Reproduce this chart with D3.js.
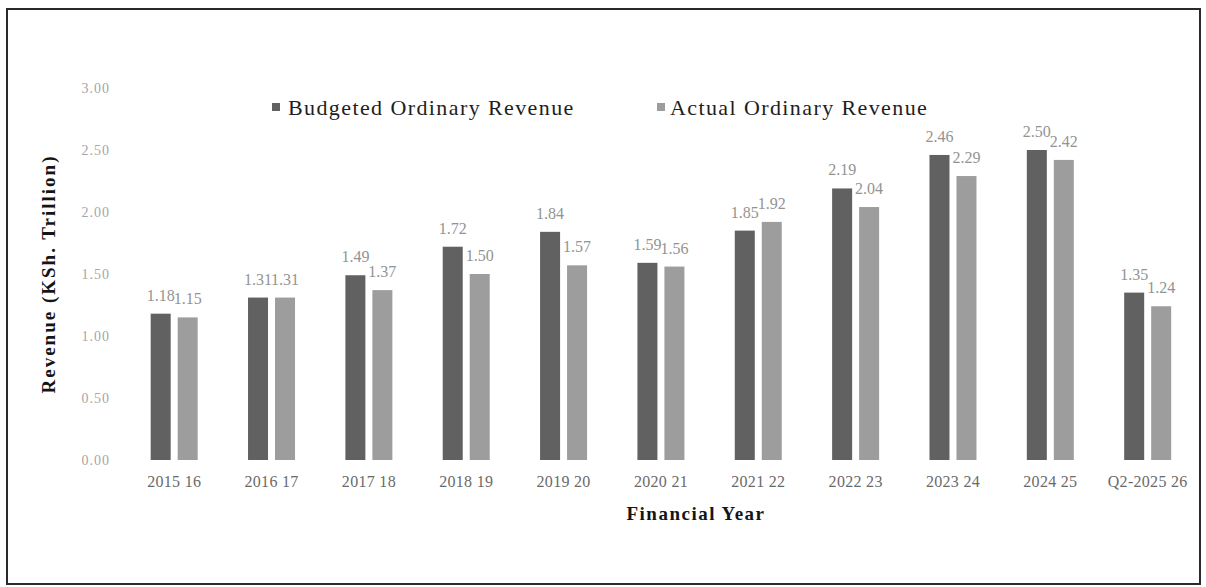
<!DOCTYPE html>
<html>
<head>
<meta charset="utf-8">
<script src="https://cdn.jsdelivr.net/npm/d3@7/dist/d3.min.js"></script>
<style>
  html, body { margin: 0; padding: 0; background: #ffffff; }
  svg { display: block; }
</style>
</head>
<body>
<script>
// ---- data ----
const categories = ["2015 16", "2016 17", "2017 18", "2018 19", "2019 20", "2020 21",
                    "2021 22", "2022 23", "2023 24", "2024 25", "Q2-2025 26"];
const budgeted = [1.18, 1.31, 1.49, 1.72, 1.84, 1.59, 1.85, 2.19, 2.46, 2.50, 1.35];
const actual   = [1.15, 1.31, 1.37, 1.50, 1.57, 1.56, 1.92, 2.04, 2.29, 2.42, 1.24];
const yTicks = [0, 0.5, 1.0, 1.5, 2.0, 2.5, 3.0];
const seriesNames = ["Budgeted Ordinary Revenue", "Actual Ordinary Revenue"];
const seriesKeys = ["budgeted", "actual"];

// ---- layout ----
const W = 1206, H = 587;
const FONT = "'Liberation Serif', 'Times New Roman', 'DejaVu Serif', serif";
const colors = { budgeted: "#616161", actual: "#9d9d9d" };

const svg = d3.select("body").append("svg")
  .attr("width", W).attr("height", H);

// outer frame
svg.append("rect")
  .attr("x", 7).attr("y", 9).attr("width", 1193).attr("height", 575)
  .attr("fill", "none").attr("stroke", "#2a2a2a").attr("stroke-width", 2);

const x0 = d3.scaleBand()
  .domain(categories)
  .range([125.5, 1196.35])
  .paddingInner(0.5172)
  .paddingOuter(0.2586);

const x1 = d3.scaleBand()
  .domain(seriesKeys)
  .range([0, x0.bandwidth()])
  .paddingInner(0.259);

const y = d3.scaleLinear().domain([0, 3]).range([460, 88]);

const rows = categories.map((c, i) => ({ cat: c, budgeted: budgeted[i], actual: actual[i] }));

// y axis tick labels (no axis line)
const yAxis = d3.axisLeft(y).tickValues(yTicks).tickFormat(d3.format(".2f")).tickSize(0).tickPadding(0);
const gy = svg.append("g").attr("transform", "translate(110,0)").call(yAxis);
gy.select(".domain").remove();
gy.selectAll("text")
  .attr("font-family", FONT).attr("font-size", 14).attr("fill", "#a6a6a6")
  .attr("letter-spacing", 1);

// x axis labels
const xAxis = d3.axisBottom(x0).tickSize(0).tickPadding(0);
const gx = svg.append("g").attr("transform", "translate(0,460)").call(xAxis);
gx.select(".domain").remove();
gx.selectAll("text")
  .attr("dy", null).attr("y", 27)
  .attr("font-family", FONT).attr("font-size", 16).attr("fill", "#6a6a6a")
  .attr("letter-spacing", 0.3);

// bars
const groups = svg.append("g").selectAll("g").data(rows).join("g")
  .attr("transform", d => `translate(${x0(d.cat)},0)`);

groups.selectAll("rect").data(d => seriesKeys.map(k => ({ key: k, value: d[k] }))).join("rect")
  .attr("x", d => x1(d.key))
  .attr("width", x1.bandwidth())
  .attr("y", d => y(d.value))
  .attr("height", d => y(0) - y(d.value))
  .attr("fill", d => colors[d.key]);

// data labels
groups.selectAll("text.val").data(d => seriesKeys.map(k => ({ key: k, value: d[k] }))).join("text")
  .attr("class", "val")
  .attr("x", d => x1(d.key) + x1.bandwidth() / 2)
  .attr("y", d => y(d.value) - 13)
  .attr("text-anchor", "middle")
  .attr("font-family", FONT).attr("font-size", 16).attr("fill", "#939393")
  .text(d => d3.format(".2f")(d.value));

// legend
const legendPos = [{ sx: 272, tx: 288 }, { sx: 657, tx: 670 }];
const legend = svg.append("g").selectAll("g").data(seriesKeys).join("g");
legend.append("rect")
  .attr("x", (d, i) => legendPos[i].sx).attr("y", 103)
  .attr("width", 8).attr("height", 8)
  .attr("fill", d => colors[d]);
legend.append("text")
  .attr("x", (d, i) => legendPos[i].tx).attr("y", 115)
  .attr("font-family", FONT).attr("font-size", 22).attr("fill", "#1e1e1e")
  .attr("letter-spacing", 1.4)
  .text((d, i) => seriesNames[i]);

// axis titles
svg.append("text")
  .attr("transform", "translate(55,274) rotate(-90)")
  .attr("text-anchor", "middle")
  .attr("font-family", FONT).attr("font-size", 19).attr("font-weight", "bold")
  .attr("letter-spacing", 2).attr("fill", "#151515")
  .text("Revenue (KSh. Trillion)");

svg.append("text")
  .attr("x", 696).attr("y", 520)
  .attr("text-anchor", "middle")
  .attr("font-family", FONT).attr("font-size", 19).attr("font-weight", "bold")
  .attr("letter-spacing", 1.5).attr("fill", "#151515")
  .text("Financial Year");
</script>
</body>
</html>
